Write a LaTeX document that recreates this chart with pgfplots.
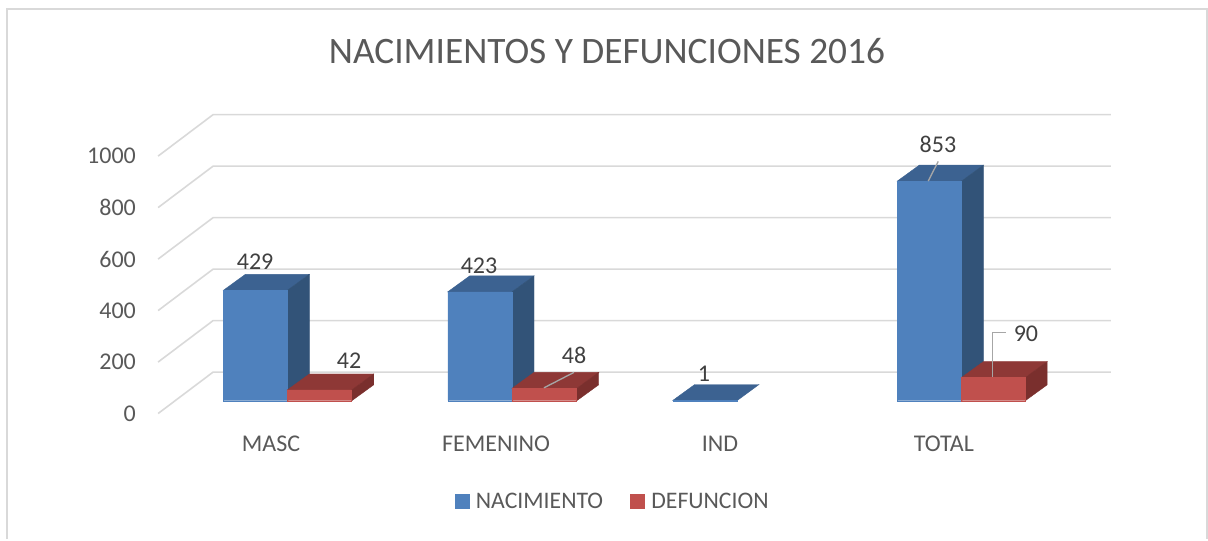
\documentclass[border=0pt]{standalone}
\usepackage{pgfplots}
\pgfplotsset{compat=1.18}
\usepackage{fontspec}
\setmainfont{Carlito}
\definecolor{gridc}{HTML}{D9D9D9}
\definecolor{txt}{HTML}{595959}
\definecolor{lab}{HTML}{404040}
\definecolor{bf}{HTML}{4F81BD}
\definecolor{bt}{HTML}{3C6291}
\definecolor{bs}{HTML}{325378}
\definecolor{rf}{HTML}{C0504D}
\definecolor{rt}{HTML}{8E3836}
\definecolor{rs}{HTML}{7A2F2D}
\newcommand{\dl}[3]{\node[text=lab,font=\fontsize{18}{20}\selectfont,anchor=center,inner sep=0pt] at (axis cs:#1,{(413.5-#2)/0.2575}) {#3};}
\begin{document}
\begin{tikzpicture}
\begin{axis}[
  scale only axis,
  width=906pt, height=404.25pt,
  xmin=0, xmax=1208,
  ymin=-487.38, ymax=1605.83,
  clip=false,
  axis line style={draw=none},
  major tick length=0pt,
  xtick={271,496,720,944},
  xticklabels={MASC,FEMENINO,IND,TOTAL},
  ytick={0,200,400,600,800,1000},
  /pgf/number format/assume math mode=true,
  /pgf/number format/fixed,
  /pgf/number format/1000 sep={},
  tick label style={text=txt,font=\fontsize{18}{20}\selectfont},
  x tick label style={anchor=center,yshift=71.5pt},
  y tick label style={anchor=east,xshift=102pt,inner sep=0pt},
  title={NACIMIENTOS Y DEFUNCIONES 2016},
  title style={at={(607/1208,1-59/539)},anchor=center,yshift=0pt,text=txt,font=\fontsize{28}{32}\selectfont,inner sep=0pt},
  legend columns=2,
  legend style={at={(613/1208,1-501.5/539)},anchor=center,draw=none,fill=none,
    font=\fontsize{17.8}{20}\selectfont,text=txt,
    /tikz/every even column/.append style={column sep=18.25pt},
    /tikz/every odd column/.append style={column sep=3pt},inner sep=0pt},
  legend image code/.code={\fill[#1] (0pt,-5.25pt) rectangle (10.5pt,5.25pt);},
]
\addlegendimage{bf}\addlegendentry{NACIMIENTO}
\addlegendimage{rf}\addlegendentry{DEFUNCION}

% frame
\addplot[forget plot,gridc,line width=1.5pt] coordinates {(7,-487.38)(7,1570.9)(1207,1570.9)(1207,-487.38)};
% gridlines: side wall and back wall
\addplot[forget plot,gridc,line width=1.2pt] coordinates {(158,0)(213,161)(1111,161)};
\addplot[forget plot,gridc,line width=1.2pt] coordinates {(158,200)(213,361)(1111,361)};
\addplot[forget plot,gridc,line width=1.2pt] coordinates {(158,400)(213,561)(1111,561)};
\addplot[forget plot,gridc,line width=1.2pt] coordinates {(158,600)(213,761)(1111,761)};
\addplot[forget plot,gridc,line width=1.2pt] coordinates {(158,800)(213,961)(1111,961)};
\addplot[forget plot,gridc,line width=1.2pt] coordinates {(158,1000)(213,1161)(1111,1161)};

\begin{scope}[yshift=4.8pt]
% NACIMIENTO tops and sides
\addplot[forget plot,fill=bt,draw=bt,line width=0.3pt] coordinates {(223.3,429)(245.3,491)(309.3,491)(287.3,429)} -- cycle;
\addplot[forget plot,fill=bs,draw=bs,line width=0.3pt] coordinates {(287.3,0)(309.3,62)(309.3,491)(287.3,429)} -- cycle;
\addplot[forget plot,fill=bt,draw=bt,line width=0.3pt] coordinates {(447.7,423)(469.7,485)(534,485)(512,423)} -- cycle;
\addplot[forget plot,fill=bs,draw=bs,line width=0.3pt] coordinates {(512,0)(534,62)(534,485)(512,423)} -- cycle;
\addplot[forget plot,fill=bt,draw=bt,line width=0.3pt] coordinates {(672.7,1)(694.7,63)(759,63)(737.3,1)} -- cycle;
\addplot[forget plot,fill=bt,draw=bt,line width=0.3pt] coordinates {(897.3,853)(919.3,915)(983.5,915)(961.5,853)} -- cycle;
\addplot[forget plot,fill=bs,draw=bs,line width=0.3pt] coordinates {(961.5,0)(983.5,62)(983.5,915)(961.5,853)} -- cycle;
% NACIMIENTO fronts
\addplot[forget plot,ybar,bar width=48.1pt,bar shift=0pt,fill=bf,draw=bf,line width=0.3pt] coordinates {(255.3,429)(479.85,423)(705,1)(929.4,853)};
% DEFUNCION tops and sides
\addplot[forget plot,fill=rt,draw=rt,line width=0.3pt] coordinates {(287.3,42)(309.3,104)(373.7,104)(351.7,42)} -- cycle;
\addplot[forget plot,fill=rs,draw=rs,line width=0.3pt] coordinates {(351.7,0)(373.7,62)(373.7,104)(351.7,42)} -- cycle;
\addplot[forget plot,fill=rt,draw=rt,line width=0.3pt] coordinates {(512,48)(534,110)(598.7,110)(576.7,48)} -- cycle;
\addplot[forget plot,fill=rs,draw=rs,line width=0.3pt] coordinates {(576.7,0)(598.7,62)(598.7,110)(576.7,48)} -- cycle;
\addplot[forget plot,fill=rt,draw=rt,line width=0.3pt] coordinates {(961.5,90)(983.5,152)(1047.3,152)(1025.3,90)} -- cycle;
\addplot[forget plot,fill=rs,draw=rs,line width=0.3pt] coordinates {(1025.3,0)(1047.3,62)(1047.3,152)(1025.3,90)} -- cycle;
% DEFUNCION fronts
\addplot[forget plot,ybar,bar width=48.2pt,bar shift=0pt,fill=rf,draw=rf,line width=0.3pt] coordinates {(319.5,42)(544.35,48)(993.4,90)};
\end{scope}

% leader lines
\addplot[forget plot,color=black!35,line width=1pt] coordinates {(928.3,903)(938.3,979.5)};
\addplot[forget plot,color=black!35,line width=1pt] coordinates {(544,100)(574,160)};
\addplot[forget plot,color=black!35,line width=1pt] coordinates {(992.3,143)(992.3,314.2)(1005.7,314.2)};

\dl{255}{262}{429}
\dl{349}{361}{42}
\dl{479}{266}{423}
\dl{574}{355}{48}
\dl{704}{374}{1}
\dl{938}{144}{853}
\dl{1026}{334}{90}
\end{axis}
\end{tikzpicture}
\end{document}
